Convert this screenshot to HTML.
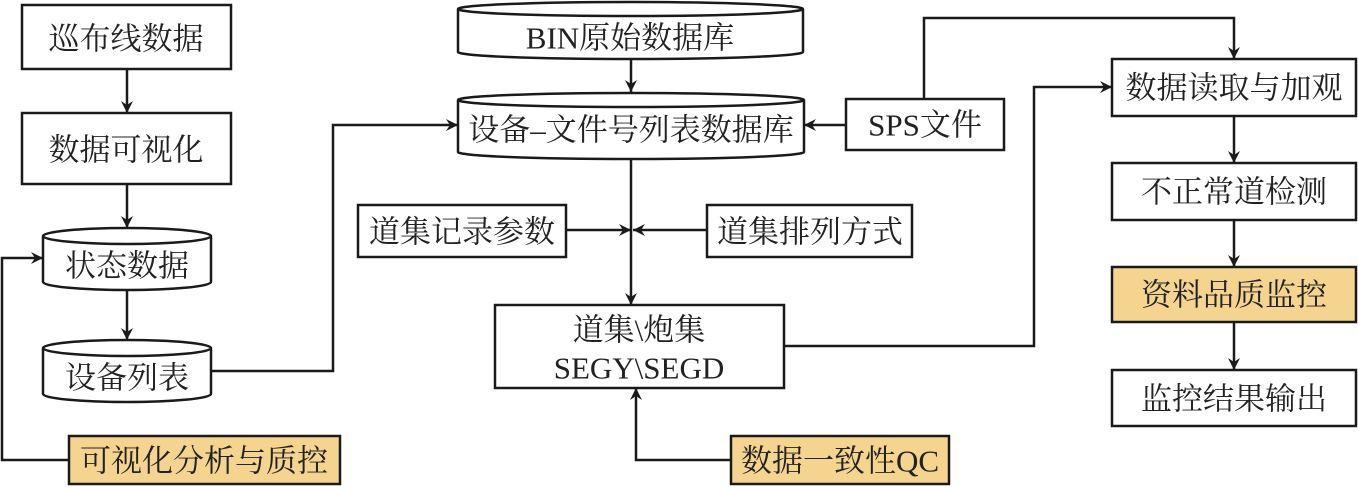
<!DOCTYPE html>
<html><head><meta charset="utf-8"><style>
html,body{margin:0;padding:0;background:#fff;width:1358px;height:488px;overflow:hidden}
text{font-family:"Liberation Serif","Noto Serif CJK SC",serif;font-size:31px;fill:#222;text-anchor:middle;dominant-baseline:central}
</style></head><body>
<svg width="1358" height="488" viewBox="0 0 1358 488" xmlns="http://www.w3.org/2000/svg">
<defs><marker id="a" viewBox="0 0 12 12" refX="12" refY="6" markerWidth="12" markerHeight="12" markerUnits="userSpaceOnUse" orient="auto"><path d="M0,0 L12,6 L0,12 L4,6 Z" fill="#1a1a1a"/></marker></defs>
<g stroke="#1a1a1a" stroke-width="2.5" fill="#fff">
<rect x="22" y="5" width="209" height="64"/>
<rect x="22" y="113" width="209" height="71"/>
<path d="M43,236 V282 A84,8 0 0 0 211,282 V236 A84,8 0 0 0 43,236 A84,8 0 0 0 211,236"/>
<path d="M43,348 V394 A84,8 0 0 0 211,394 V348 A84,8 0 0 0 43,348 A84,8 0 0 0 211,348"/>
<rect x="69" y="436" width="271" height="48" fill="#f5d48f"/>
<path d="M458,9 V52 A172,7 0 0 0 803,52 V9 A172,7 0 0 0 458,9 A172,7 0 0 0 803,9"/>
<path d="M458,100 V152 A173,7 0 0 0 804,152 V100 A173,7 0 0 0 458,100 A173,7 0 0 0 804,100"/>
<rect x="846" y="99" width="158" height="51"/>
<rect x="358" y="205" width="208" height="52"/>
<rect x="707" y="205" width="205" height="52"/>
<rect x="495" y="305" width="289" height="83"/>
<rect x="731" y="436" width="218" height="48" fill="#f5d48f"/>
<rect x="1112" y="59" width="244" height="57"/>
<rect x="1112" y="163" width="244" height="57"/>
<rect x="1112" y="267" width="244" height="55" fill="#f5d48f"/>
<rect x="1112" y="370" width="244" height="56"/>
</g>
<g stroke="#1a1a1a" stroke-width="2.5" fill="none">
<path d="M127,69 V113" marker-end="url(#a)"/>
<path d="M127,184 V228" marker-end="url(#a)"/>
<path d="M127,290 V340" marker-end="url(#a)"/>
<path d="M69,460 H2 V258 H43" marker-end="url(#a)"/>
<path d="M211,371 H333 V125 H458" marker-end="url(#a)"/>
<path d="M631,59 V92" marker-end="url(#a)"/>
<path d="M846,125 H804" marker-end="url(#a)"/>
<path d="M924,99 V18 H1234 V59" marker-end="url(#a)"/>
<path d="M631,159 V305" marker-end="url(#a)"/>
<path d="M566,230 H631" marker-end="url(#a)"/>
<path d="M707,230 H633" marker-end="url(#a)"/>
<path d="M731,460 H636 V388" marker-end="url(#a)"/>
<path d="M784,346 H1034 V87 H1112" marker-end="url(#a)"/>
<path d="M1234,116 V163" marker-end="url(#a)"/>
<path d="M1234,220 V267" marker-end="url(#a)"/>
<path d="M1234,322 V370" marker-end="url(#a)"/>
</g>
<text x="126" y="39">巡布线数据</text>
<text x="126" y="150">数据可视化</text>
<text x="127" y="266">状态数据</text>
<text x="127" y="378">设备列表</text>
<text x="204" y="461">可视化分析与质控</text>
<text x="630" y="38">BIN原始数据库</text>
<text x="631" y="130">设备–文件号列表数据库</text>
<text x="925" y="125">SPS文件</text>
<text x="462" y="232">道集记录参数</text>
<text x="810" y="232">道集排列方式</text>
<text x="639" y="330">道集\炮集</text>
<text x="639" y="368">SEGY\SEGD</text>
<text x="840" y="461">数据一致性QC</text>
<text x="1234" y="88">数据读取与加观</text>
<text x="1234" y="192">不正常道检测</text>
<text x="1234" y="295">资料品质监控</text>
<text x="1234" y="399">监控结果输出</text>
</svg>
</body></html>
